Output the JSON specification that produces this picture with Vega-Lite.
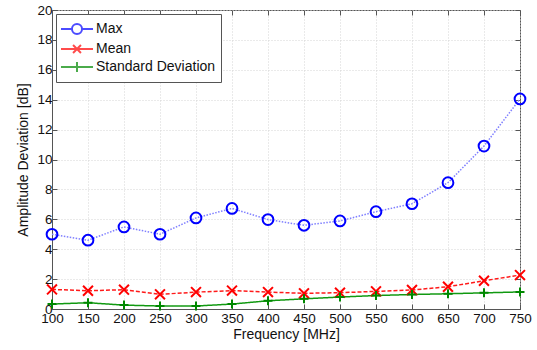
{
  "$schema": "https://vega.github.io/schema/vega-lite/v6.json",
  "width": 468,
  "height": 299,
  "autosize": "none",
  "padding": {"left": 52, "top": 10, "right": 17, "bottom": 41},
  "config": {
    "font": "Liberation Sans",
    "view": {"stroke": "#555", "strokeWidth": 1},
    "axis": {
      "labelFont": "Liberation Sans",
      "titleFont": "Liberation Sans",
      "labelFontSize": 13.5,
      "titleFontSize": 14,
      "titleFontWeight": "normal",
      "labelColor": "#111",
      "titleColor": "#111",
      "domainColor": "#555",
      "tickColor": "#555",
      "tickSize": -5,
      "gridColor": "#d4d4d4",
      "gridDash": [1, 2],
      "gridWidth": 1
    },
    "legend": {
      "labelFont": "Liberation Sans",
      "labelFontSize": 14,
      "labelColor": "#111"
    }
  },
  "data": {
    "values": [
      {"freq": 100, "series": "Max", "value": 5.0},
      {"freq": 150, "series": "Max", "value": 4.6},
      {"freq": 200, "series": "Max", "value": 5.49},
      {"freq": 250, "series": "Max", "value": 5.0},
      {"freq": 300, "series": "Max", "value": 6.09},
      {"freq": 350, "series": "Max", "value": 6.73},
      {"freq": 400, "series": "Max", "value": 5.98},
      {"freq": 450, "series": "Max", "value": 5.6},
      {"freq": 500, "series": "Max", "value": 5.89},
      {"freq": 550, "series": "Max", "value": 6.51},
      {"freq": 600, "series": "Max", "value": 7.04},
      {"freq": 650, "series": "Max", "value": 8.45},
      {"freq": 700, "series": "Max", "value": 10.9},
      {"freq": 750, "series": "Max", "value": 14.05},
      {"freq": 100, "series": "Mean", "value": 1.31},
      {"freq": 150, "series": "Mean", "value": 1.22},
      {"freq": 200, "series": "Mean", "value": 1.29},
      {"freq": 250, "series": "Mean", "value": 0.98},
      {"freq": 300, "series": "Mean", "value": 1.13},
      {"freq": 350, "series": "Mean", "value": 1.23},
      {"freq": 400, "series": "Mean", "value": 1.13},
      {"freq": 450, "series": "Mean", "value": 1.05},
      {"freq": 500, "series": "Mean", "value": 1.09},
      {"freq": 550, "series": "Mean", "value": 1.18},
      {"freq": 600, "series": "Mean", "value": 1.27},
      {"freq": 650, "series": "Mean", "value": 1.49},
      {"freq": 700, "series": "Mean", "value": 1.89},
      {"freq": 750, "series": "Mean", "value": 2.27},
      {"freq": 100, "series": "Standard Deviation", "value": 0.33},
      {"freq": 150, "series": "Standard Deviation", "value": 0.42},
      {"freq": 200, "series": "Standard Deviation", "value": 0.26},
      {"freq": 250, "series": "Standard Deviation", "value": 0.2},
      {"freq": 300, "series": "Standard Deviation", "value": 0.2},
      {"freq": 350, "series": "Standard Deviation", "value": 0.33},
      {"freq": 400, "series": "Standard Deviation", "value": 0.55},
      {"freq": 450, "series": "Standard Deviation", "value": 0.68},
      {"freq": 500, "series": "Standard Deviation", "value": 0.8},
      {"freq": 550, "series": "Standard Deviation", "value": 0.9},
      {"freq": 600, "series": "Standard Deviation", "value": 0.97},
      {"freq": 650, "series": "Standard Deviation", "value": 1.02},
      {"freq": 700, "series": "Standard Deviation", "value": 1.08},
      {"freq": 750, "series": "Standard Deviation", "value": 1.14}
    ]
  },
  "resolve": {
    "axis": {"x": "independent", "y": "independent"},
    "scale": {"color": "independent", "shape": "independent"}
  },
  "layer": [
    {
      "mark": {"type": "line", "strokeWidth": 1.5},
      "encoding": {
        "x": {
          "field": "freq", "type": "quantitative",
          "scale": {"domain": [100, 750], "nice": false},
          "axis": {"title": "Frequency [MHz]", "values": [100,150,200,250,300,350,400,450,500,550,600,650,700,750], "labelPadding": 7, "titlePadding": 3, "labelFlush": false}
        },
        "y": {
          "field": "value", "type": "quantitative",
          "scale": {"domain": [0, 20], "nice": false},
          "axis": {"title": "Amplitude Deviation [dB]", "values": [0,2,4,6,8,10,12,14,16,18,20], "labelPadding": 5, "titlePadding": 6, "labelFlush": false}
        },
        "detail": {"field": "series"},
        "stroke": {
          "field": "series", "type": "nominal",
          "scale": {"domain": ["Max", "Mean", "Standard Deviation", "_"], "range": ["#7f7fff", "#ff1a1a", "#119911", "#000"]},
          "legend": null
        },
        "strokeDash": {
          "field": "series", "type": "nominal",
          "scale": {"domain": ["Max", "Mean", "Standard Deviation", "_"], "range": [[1.5, 1.5], [4, 2], [1, 0], [1, 0]]},
          "legend": null
        },
        "strokeWidth": {
          "field": "series", "type": "nominal",
          "scale": {"domain": ["Max", "Mean", "Standard Deviation", "_"], "range": [1, 2, 2, 1]},
          "legend": null
        }
      }
    },
    {
      "mark": {"type": "point", "filled": false, "strokeWidth": 2, "opacity": 1},
      "encoding": {
        "x": {
          "field": "freq", "type": "quantitative",
          "axis": {"orient": "top", "title": null, "labels": false, "grid": false, "domain": false, "values": [100,150,200,250,300,350,400,450,500,550,600,650,700,750]}
        },
        "y": {
          "field": "value", "type": "quantitative",
          "axis": {"orient": "right", "title": null, "labels": false, "grid": false, "domain": false, "values": [0,2,4,6,8,10,12,14,16,18,20]}
        },
        "color": {
          "field": "series", "type": "nominal",
          "scale": {"domain": ["Max", "Mean", "Standard Deviation", "_"], "range": ["#0000ff", "#ff0000", "#008800", "#000"]},
          "legend": null
        },
        "shape": {
          "field": "series", "type": "nominal",
          "scale": {"domain": ["Max", "Mean", "Standard Deviation", "_"], "range": ["circle", "M-1,-1L1,1M-1,1L1,-1", "M-1,0H1M0,-1V1", "circle"]},
          "legend": null
        },
        "size": {
          "field": "series", "type": "nominal",
          "scale": {"domain": ["Max", "Mean", "Standard Deviation", "_"], "range": [115, 64, 110, 10]},
          "legend": null
        }
      }
    },
    {
      "transform": [{"filter": "datum.value < -100"}],
      "mark": {"type": "point", "filled": false, "strokeWidth": 2, "size": 324},
      "encoding": {
        "color": {
          "field": "series", "type": "nominal",
          "scale": {"domain": ["Max", "Mean", "Standard Deviation"], "range": ["#0000ff", "#ff0000", "#008800"]},
          "legend": {
            "title": null,
            "orient": "top-left",
            "offset": 4,
            "padding": 5,
            "fillColor": "white",
            "strokeColor": "#555",
            "symbolSize": 324,
            "symbolStrokeWidth": 2,
            "symbolOffset": 6,
            "labelOffset": 9,
            "rowPadding": -1.5
          }
        },
        "shape": {
          "field": "series", "type": "nominal",
          "scale": {"domain": ["Max", "Mean", "Standard Deviation"], "range": ["M-1.78,0H-0.56M0.56,0H1.78M0.56,0A0.56,0.56 0 1,1 -0.56,0A0.56,0.56 0 1,1 0.56,0", "M-1.78,0H1.78M-0.44,-0.44L0.44,0.44M-0.44,0.44L0.44,-0.44", "M-1.78,0H1.78M0,-0.56V0.56"]},
          "legend": {
            "title": null,
            "orient": "top-left",
            "offset": 4,
            "padding": 5,
            "fillColor": "white",
            "strokeColor": "#555",
            "symbolSize": 324,
            "symbolStrokeWidth": 2,
            "symbolOffset": 6,
            "labelOffset": 9,
            "rowPadding": -1.5
          }
        }
      }
    }
  ]
}
